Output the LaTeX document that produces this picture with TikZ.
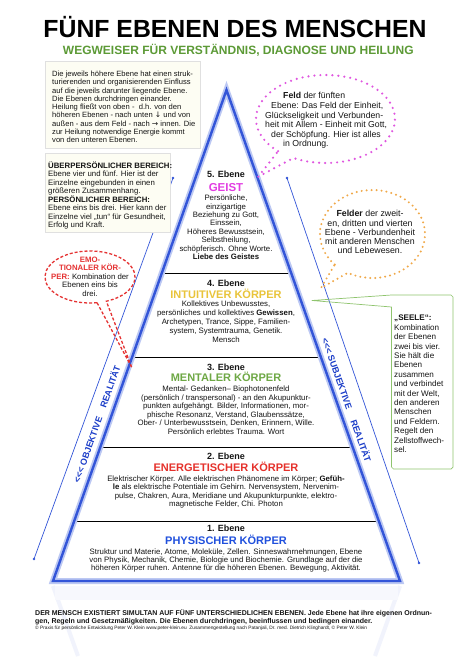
\documentclass[tikz,border=0pt]{standalone}
\usepackage{fontspec}
\setmainfont{Liberation Sans}
\newfontfamily\arrowfont{DejaVu Sans}
\usetikzlibrary{calc}
\definecolor{pyrblue}{HTML}{3355D8}
\definecolor{glowc}{HTML}{BCC8F3}
\definecolor{bandtext}{HTML}{1A3CC8}
\definecolor{subgreen}{HTML}{5C9A36}
\definecolor{geistc}{HTML}{E23DE2}
\definecolor{intuc}{HTML}{E9C43A}
\definecolor{mentc}{HTML}{6EA845}
\definecolor{energc}{HTML}{E5312B}
\definecolor{physc}{HTML}{2050DD}
\definecolor{pinkdot}{HTML}{E055E0}
\definecolor{orangedot}{HTML}{F0A848}
\definecolor{reddash}{HTML}{E53333}
\definecolor{calloutgreen}{HTML}{8FC46E}
\definecolor{creamfill}{HTML}{FDFDF3}
\definecolor{txt}{HTML}{151515}
\begin{document}
\begin{tikzpicture}[x=1pt,y=-1pt,
  every node/.style={inner sep=0pt, text=txt},
  bodytxt/.style={align=center, anchor=north, font=\fontsize{7.8}{#1}\selectfont},
  levhead/.style={anchor=base, font=\fontsize{9}{10}\selectfont\bfseries},
  levtitle/.style={anchor=base, font=\fontsize{11}{12}\selectfont\bfseries, text=#1},
  divider/.style={draw=black, line width=1pt},
  bandlbl/.style={font=\fontsize{9}{10}\selectfont\bfseries, text=bandtext},
  thinblue/.style={draw=pyrblue, line width=0.7pt},
  pinkdots/.style={draw=pinkdot, line width=2.4pt, line cap=round, dash pattern=on 0pt off 6pt},
  orangedots/.style={draw=orangedot, line width=2.2pt, line cap=round, dash pattern=on 0pt off 5pt},
  reddashes/.style={draw=reddash, line width=1.3pt, dash pattern=on 3pt off 2pt},
  infobox/.style={draw=black!12, fill=creamfill, line width=0.5pt}
]
\useasboundingbox (0,0) rectangle (466,658);
\fill[white] (0,0) rectangle (466,658);

% title
\node[anchor=base, font=\fontsize{24.8}{26}\selectfont\bfseries, text=black] (title) at (235,37.3) {FÜNF EBENEN DES MENSCHEN};
\node[anchor=base, font=\fontsize{12}{13}\selectfont\bfseries, text=subgreen] (subtitle) at (238.3,55) {WEGWEISER FÜR VERSTÄNDNIS, DIAGNOSE UND HEILUNG};

% pyramid coordinates
\coordinate (apex) at (226.5,90);
\coordinate (bl) at (53,581);
\coordinate (br) at (400,581);

% reflection
\draw[pyrblue!7, line width=4pt] (53,586) -- (78,656);
\draw[pyrblue!7, line width=4pt] (400,586) -- (375,656);
\fill[pyrblue!4] (55,586) rectangle (398,600);

% dividers
\foreach \f/\n in {0.3747/a,0.5458/b,0.7271/c,0.8798/d}{
  \coordinate (dl\n) at ($(apex)!\f!(bl)$);
  \coordinate (dr\n) at ($(apex)!\f!(br)$);
  \draw[divider] (dl\n) -- (dr\n);
}

% pyramid outline
\draw[glowc, line width=6pt, line join=miter] (bl) -- (apex) -- (br) -- cycle;
\draw[pyrblue, line width=2.4pt, line join=miter] (bl) -- (apex) -- (br) -- cycle;

% thin lines with dots
\coordinate (tl1) at (173,178); \coordinate (tl2) at (34,559);
\coordinate (tr1) at (287,178); \coordinate (tr2) at (419,563);
\draw[thinblue] (tl1) -- (tl2);
\draw[thinblue] (tr1) -- (tr2);
\foreach \p in {tl1,tl2,tr1,tr2}{\fill[pyrblue] (\p) circle (1.4pt);}

% band labels
\node[bandlbl, rotate=70.5] (objreal) at (96.5,424) {<{}<{}< OBJEKTIVE\hspace{10pt}REALITÄT};
\node[bandlbl, rotate=-70.5] (subreal) at (347,400) {<{}<{}< SUBJEKTIVE\hspace{12pt}REALITÄT};

% level 5
\node[levhead] (h5) at (226,177.3) {5. Ebene};
\node[levtitle=geistc, font=\fontsize{11.5}{12}\selectfont\bfseries] (t5) at (226,191) {GEIST};
\node[bodytxt=8.45] (b5) at (226,194.7) {Persönliche,\\einzigartige\\Beziehung zu Gott,\\Einssein,\\Höheres Bewusstsein,\\Selbstheilung,\\schöpferisch. Ohne Worte.\\\textbf{Liebe des Geistes}};

% level 4
\node[levhead] (h4) at (226,286.3) {4. Ebene};
\node[levtitle=intuc] (t4) at (226,298) {INTUITIVER KÖRPER};
\node[bodytxt=9] (b4) at (226,300.7) {Kollektives Unbewusstes,\\persönliches und kollektives \textbf{Gewissen},\\Archetypen, Trance, Sippe, Familien-\\system, Systemtrauma, Genetik.\\Mensch};

% level 3
\node[levhead] (h3) at (226,370.3) {3. Ebene};
\node[levtitle=mentc] (t3) at (226,381) {MENTALER KÖRPER};
\node[bodytxt=8.6] (b3) at (226,385.7) {Mental- Gedanken– Biophotonenfeld\\(persönlich / transpersonal) - an den Akupunktur-\\punkten aufgehängt. Bilder, Informationen, mor-\\phische Resonanz, Verstand, Glaubenssätze,\\Ober- / Unterbewusstsein, Denken, Erinnern, Wille.\\Persönlich erlebtes Trauma. Wort};

% level 2
\node[levhead] (h2) at (226,459.3) {2. Ebene};
\node[levtitle=energc] (t2) at (226,471) {ENERGETISCHER KÖRPER};
\node[bodytxt=8.33] (b2) at (226,475.7) {Elektrischer Körper. Alle elektrischen Phänomene im Körper; \textbf{Gefüh-}\\\textbf{le} als elektrische Potentiale im Gehirn. Nervensystem, Nervenim-\\pulse, Chakren, Aura, Meridiane und Akupunkturpunkte, elektro-\\magnetische Felder, Chi. Photon};

% level 1
\node[levhead] (h1) at (226,531.3) {1. Ebene};
\node[levtitle=physc] (t1) at (226,544) {PHYSISCHER KÖRPER};
\node[bodytxt=8] (b1) at (226,548.7) {Struktur und Materie, Atome, Moleküle, Zellen. Sinneswahrnehmungen, Ebene\\von Physik, Mechanik, Chemie, Biologie und Biochemie. Grundlage auf der die\\höheren Körper ruhen. Antenne für die höheren Ebenen. Bewegung, Aktivität.};

% info boxes
\draw[infobox] (45,61) rectangle (200,148);
\node[anchor=north west, align=left, font=\fontsize{7.6}{8.25}\selectfont] (info1) at (52,70.8) {Die jeweils höhere Ebene hat einen struk-\\turierenden und organisierenden Einfluss\\auf die jeweils darunter liegende Ebene.\\Die Ebenen durchdringen einander.\\Heilung fließt von oben -~~d.h. von den\\höheren Ebenen - nach unten {\arrowfont ↓} und von\\außen - aus dem Feld - nach {\arrowfont →} innen. Die\\zur Heilung notwendige Energie kommt\\von den unteren Ebenen.};

\draw[infobox] (45,153) rectangle (170,232);
\node[anchor=north west, align=left, font=\fontsize{7.8}{8.5}\selectfont] (info2) at (48,161.2) {\textbf{ÜBERPERSÖNLICHER BEREICH:}\\Ebene vier und fünf. Hier ist der\\Einzelne eingebunden in einen\\größeren Zusammenhang.\\\textbf{PERSÖNLICHER BEREICH:}\\Ebene eins bis drei. Hier kann der\\Einzelne viel „tun“ für Gesundheit,\\Erfolg und Kraft.};

% red bubble
\coordinate (rc) at (90,277);
\coordinate (rtip) at (132,368);
\draw[reddashes] ($(rc)+(81:45 and 26)$) arc[start angle=81, end angle=428.7, x radius=45, y radius=26] -- (rtip) -- cycle;
\node[align=center, anchor=north, font=\fontsize{7.8}{8.5}\selectfont] (emo) at (90,256.7) {\textcolor{reddash}{\textbf{EMO-}}\\\textcolor{reddash}{\textbf{TIONALER KÖR-}}\\\textcolor{reddash}{\textbf{PER:}} Kombination der\\Ebenen eins bis\\drei.};

% pink bubble
\coordinate (pc) at (325.5,119);
\coordinate (ptip) at (258.3,176.7);
\draw[pinkdots] ($(pc)+(133:69.5 and 44)$) arc[start angle=133, end angle=477.5, x radius=69.5, y radius=44] -- (ptip) -- cycle;
\node[anchor=north west, align=left, font=\fontsize{8.7}{9.6}\selectfont] (feld5) at (265,92.4) {\hspace*{18pt}\textbf{Feld} der fünften\\\hspace*{6pt}Ebene: Das Feld der Einheit,\\Glückseligkeit und Verbunden-\\heit mit Allem - Einheit mit Gott,\\\hspace*{6pt}der Schöpfung. Hier ist alles\\\hspace*{18pt}in Ordnung.};

% orange bubble
\coordinate (oc) at (372.5,234);
\coordinate (otip) at (321,288);
\draw[orangedots] ($(oc)+(136:52.5 and 44)$) arc[start angle=136, end angle=478, x radius=52.5, y radius=44] -- (otip) -- cycle;
\node[align=center, anchor=north, font=\fontsize{8.8}{9.25}\selectfont] (felder) at (370,210.4) {\textbf{Felder} der zweit-\\en, dritten und vierten\\Ebene - Verbundenheit\\mit anderen Menschen\\und Lebewesen.};

% green callout
\coordinate (ctip) at (312,300.5);
\draw[calloutgreen, line width=0.7pt, line join=round] (ctip) -- (391.5,295) -- (451,295) -- (453,297) -- (453,467) -- (451,469) -- (393.5,469) -- (391.5,467) -- (391.5,307) -- cycle;
\node[anchor=north west, align=left, font=\fontsize{8.1}{9.4}\selectfont] (seele) at (394,315) {\textbf{„SEELE“:}\\Kombination\\der Ebenen\\zwei bis vier.\\Sie hält die\\Ebenen\\zusammen\\und verbindet\\mit der Welt,\\den anderen\\Menschen\\und Feldern.\\Regelt den\\Zellstoffwech-\\sel.};

% bottom text
\node[anchor=north west, align=left, font=\fontsize{7}{7.8}\selectfont\bfseries] (bottom) at (35,609.5) {DER MENSCH EXISTIERT SIMULTAN AUF FÜNF UNTERSCHIEDLICHEN EBENEN. Jede Ebene hat ihre eigenen Ordnun-\\gen, Regeln und Gesetzmäßigkeiten. Die Ebenen durchdringen, beeinflussen und bedingen einander.};
\node[anchor=base west, font=\fontsize{4.8}{5}\selectfont] (copy) at (35,629) {© Praxis für persönliche Entwicklung Peter W. Klein www.peter-klein.eu~~Zusammengestellung nach Patanjali, Dr. med. Dietrich Klinghardt, © Peter W. Klein};
\end{tikzpicture}
\end{document}
